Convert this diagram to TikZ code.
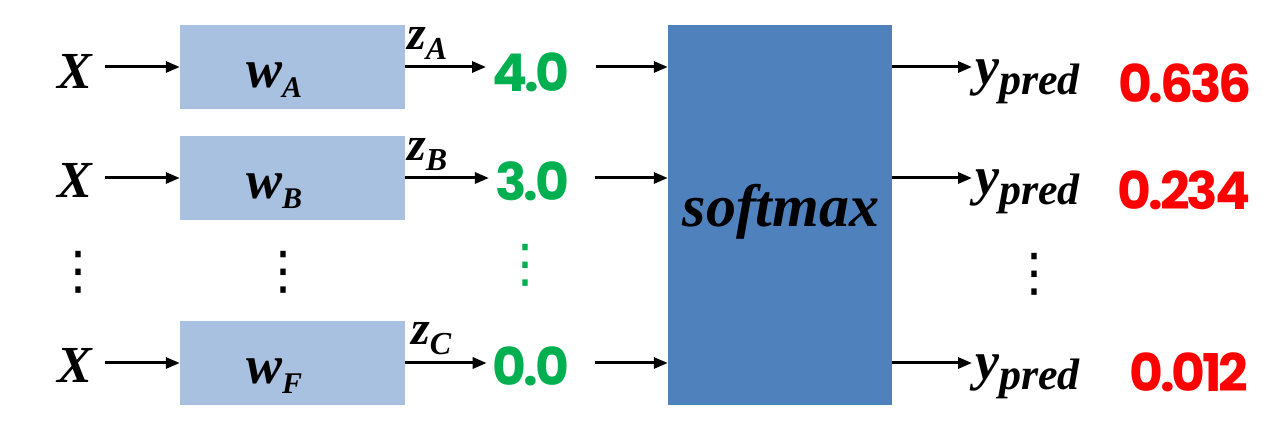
\documentclass[tikz,border=0pt]{standalone}
\usepackage{fontspec}
\usetikzlibrary{positioning, arrows.meta}
\newfontfamily\symbfont{Liberation Serif}
\newfontfamily\valuefont{Poppins}[LetterSpace=-6]
\newfontfamily\dotsfont{DejaVu Sans}
\definecolor{color_weight}{HTML}{A9C1E0}
\definecolor{color_softmax}{HTML}{4F81BD}
\definecolor{color_logit}{HTML}{00B050}
\definecolor{color_prob}{HTML}{FF0000}
\definecolor{color_text}{HTML}{000000}
% symbol with a lowered index
\newcommand{\symsub}[4]{{\fontsize{#1}{#1}\selectfont #2}\raisebox{-10pt}{\fontsize{#3}{#3}\selectfont #4}}
\tikzset{
  weight_box/.style={fill=color_weight, minimum width=225pt, minimum height=84pt, inner sep=0pt},
  softmax_box/.style={fill=color_softmax, minimum width=224pt, minimum height=380pt, inner sep=0pt},
  symbol_label/.style={font=\symbfont\bfseries\itshape, text=color_text, inner sep=0pt},
  logit_value/.style={font=\valuefont\bfseries\fontsize{52}{52}\selectfont, text=color_logit, inner sep=0pt},
  prob_value/.style={font=\valuefont\bfseries\fontsize{52}{52}\selectfont, text=color_prob, inner sep=0pt},
  dots_label/.style={font=\dotsfont\fontsize{52}{52}\selectfont, text=color_text, inner sep=0pt},
  flow_arrow/.style={-{Triangle[length=14pt, width=11pt]}, draw=color_text, line width=3pt},
}

\begin{document}
\begin{tikzpicture}[x=1pt, y=-1pt]
    \useasboundingbox (0,0) rectangle (1283,435);
    % Weight boxes and softmax block
    \node[weight_box] (w_a) at (292.5, 67) {};
    \node[weight_box] (w_b) at (292.5, 178) {};
    \node[weight_box] (w_f) at (292.5, 363) {};
    \node[softmax_box] (soft) at (780, 215) {};
    \node[symbol_label, font=\symbfont\bfseries\itshape\fontsize{60}{60}\selectfont] (soft_label) at (781, 212) {softmax};
    % Inputs
    \node[symbol_label, font=\symbfont\bfseries\itshape\fontsize{52}{52}\selectfont] (x_a) at (75, 71) {X};
    \node[symbol_label, font=\symbfont\bfseries\itshape\fontsize{52}{52}\selectfont] (x_b) at (75, 180) {X};
    \node[symbol_label, font=\symbfont\bfseries\itshape\fontsize{52}{52}\selectfont] (x_f) at (75, 365) {X};
    \node[symbol_label, anchor=base west] (w_a_label) at (246, 88) {\symsub{54}{w}{30}{A}};
    \node[symbol_label, anchor=base west] (w_b_label) at (246, 199) {\symsub{54}{w}{30}{B}};
    \node[symbol_label, anchor=base west] (w_f_label) at (246, 384) {\symsub{54}{w}{30}{F}};
    % Logits
    \node[logit_value] (z_a) at (531, 72) {4.0};
    \node[logit_value] (z_b) at (532, 181) {3.0};
    \node[logit_value] (z_f) at (531, 366) {0.0};
    \node[symbol_label, anchor=base west] (z_a_label) at (407, 50) {\symsub{48}{z}{32}{A}};
    \node[symbol_label, anchor=base west] (z_b_label) at (407, 161) {\symsub{48}{z}{32}{B}};
    \node[symbol_label, anchor=base west] (z_f_label) at (411, 345) {\symsub{48}{z}{32}{C}};
    % Outputs
    \node[symbol_label, anchor=base west] (y_a) at (975, 85) {\symsub{54}{y}{44}{pred}};
    \node[symbol_label, anchor=base west] (y_b) at (975, 195) {\symsub{54}{y}{44}{pred}};
    \node[symbol_label, anchor=base west] (y_f) at (975, 380) {\symsub{54}{y}{44}{pred}};
    \node[prob_value] (p_a) at (1185, 83) {0.636};
    \node[prob_value] (p_b) at (1184, 190) {0.234};
    \node[prob_value] (p_f) at (1189, 372) {0.012};
    % Elided rows
    \node[dots_label] (dots_x) at (78, 272) {⋮};
    \node[dots_label] (dots_w) at (283, 272) {⋮};
    \node[dots_label, text=color_logit] (dots_z) at (525, 265) {⋮};
    \node[dots_label] (dots_y) at (1034, 274) {⋮};
    % Arrows
    \foreach \row in {a, b, f} {
      \draw[flow_arrow] ([xshift=12pt]x_\row.east |- w_\row.west) -- (w_\row.west);
      \draw[flow_arrow] (w_\row.east) -- ([xshift=-6pt]z_\row.west |- w_\row.east);
      \draw[flow_arrow] ([xshift=26pt]z_\row.east |- w_\row.east) -- (soft.west |- w_\row.east);
      \draw[flow_arrow] (soft.east |- w_\row.east) -- ([xshift=-3pt]y_\row.west |- w_\row.east);
    }
\end{tikzpicture}
\end{document}
